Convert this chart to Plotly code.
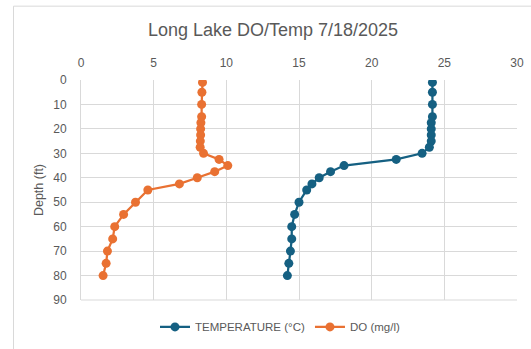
import plotly.graph_objects as go

depth_ft = [1, 5, 10, 15, 17.5, 20, 22.5, 25, 27.5, 30, 32.5, 35, 37.5, 40, 42.5, 45, 50, 55, 60, 65, 70, 75, 80]
temperature_c = [24.18, 24.18, 24.18, 24.18, 24.1, 24.1, 24.1, 24.1, 23.97, 23.47, 21.69, 18.1, 17.17, 16.39,
                 15.89, 15.53, 15.0, 14.7, 14.5, 14.5, 14.41, 14.3, 14.2]
do_mgl = [8.36, 8.32, 8.3, 8.3, 8.25, 8.23, 8.23, 8.21, 8.2, 8.43, 9.5, 10.1, 9.2, 8.0,
          6.77, 4.6, 3.75, 2.93, 2.32, 2.18, 1.82, 1.73, 1.52]
x_ticks = [0, 5, 10, 15, 20, 25, 30]
y_ticks = [0, 10, 20, 30, 40, 50, 60, 70, 80, 90]

TEMP_COLOR = "#156082"
DO_COLOR = "#E97132"
TEXT = "#595959"
GRID = "#d9d9d9"
FONT = "Liberation Sans"

fig = go.Figure()
fig.add_trace(go.Scatter(x=temperature_c, y=depth_ft, mode="lines+markers", name="TEMPERATURE (°C)",
                         line=dict(color=TEMP_COLOR, width=2.25),
                         marker=dict(color=TEMP_COLOR, size=9)))
fig.add_trace(go.Scatter(x=do_mgl, y=depth_ft, mode="lines+markers", name="DO (mg/l)",
                         line=dict(color=DO_COLOR, width=2.25),
                         marker=dict(color=DO_COLOR, size=9)))

L, R, T, B = 81, 14, 79.5, 49
W, H = 531, 349
pw, ph = W - L - R, H - T - B

fig.update_layout(
    width=W, height=H,
    margin=dict(l=L, r=R, t=T, b=B, autoexpand=False),
    paper_bgcolor="white", plot_bgcolor="white",
    font=dict(family=FONT, color=TEXT, size=12),
    title=dict(text="Long Lake DO/Temp 7/18/2025", x=(273 - 0) / W, xanchor="center",
               y=1 - 30 / H, yanchor="middle", font=dict(size=18, color=TEXT, family=FONT)),
    xaxis=dict(range=[0, 30], tickvals=x_ticks, side="top", showgrid=True, gridcolor=GRID, gridwidth=1,
               zeroline=False, showline=False, ticks="", automargin=False, ticklabelstandoff=10,
               tickfont=dict(size=12, color=TEXT)),
    yaxis=dict(range=[90, 0], tickvals=y_ticks, showgrid=True, gridcolor=GRID, gridwidth=1,
               zeroline=False, showline=True, linecolor=GRID, linewidth=1, ticks="",
               automargin=False, ticklabelstandoff=11,
               tickfont=dict(size=12, color=TEXT),
               title=dict(text="Depth (ft)", font=dict(size=12.5, color=TEXT), standoff=6)),
    legend=dict(orientation="h", x=(280 - L) / pw, xanchor="center", y=-(327 - (T + ph)) / ph,
                yanchor="middle", font=dict(size=11.5, color=TEXT), bgcolor="rgba(0,0,0,0)",
                itemwidth=30),
    showlegend=True,
)

# bottom border of plot area at 90
fig.add_shape(type="line", xref="paper", yref="paper", x0=0, x1=1, y0=0, y1=0,
              line=dict(color=GRID, width=1))
# chart area border
fig.add_shape(type="rect", xref="paper", yref="paper",
              x0=(13.5 - L) / pw, x1=(540 - L) / pw,
              y0=-(360 - (T + ph)) / ph, y1=1 + (T - 5.5) / ph,
              line=dict(color="#d9d9d9", width=1), layer="below")

fig.write_html("out.html")
